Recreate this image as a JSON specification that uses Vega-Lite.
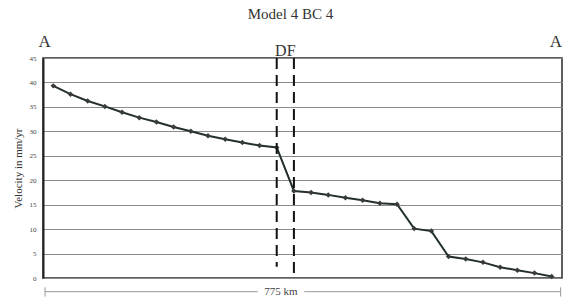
{
  "$schema": "https://vega.github.io/schema/vega-lite/v6.json",
  "width": 519,
  "height": 220,
  "autosize": {"type": "none"},
  "padding": {"left": 43, "top": 58, "right": 2, "bottom": 21},
  "background": "white",
  "config": {
    "font": "Liberation Serif",
    "view": {"stroke": "#2a2a2a", "strokeWidth": 1.5}
  },
  "title": {"text": "Model 4 BC 4", "font": "Liberation Serif", "fontSize": 15, "fontWeight": "normal", "color": "#333", "offset": 11, "dx": -12},
  "datasets": {
    "pts": [
      {"i": 0, "v": 39.3}, {"i": 1, "v": 37.6}, {"i": 2, "v": 36.2}, {"i": 3, "v": 35.1},
      {"i": 4, "v": 33.9}, {"i": 5, "v": 32.8}, {"i": 6, "v": 31.9}, {"i": 7, "v": 30.9},
      {"i": 8, "v": 30.0}, {"i": 9, "v": 29.1}, {"i": 10, "v": 28.4}, {"i": 11, "v": 27.7},
      {"i": 12, "v": 27.1}, {"i": 13, "v": 26.7}, {"i": 14, "v": 17.8}, {"i": 15, "v": 17.5},
      {"i": 16, "v": 17.0}, {"i": 17, "v": 16.4}, {"i": 18, "v": 15.9}, {"i": 19, "v": 15.3},
      {"i": 20, "v": 15.1}, {"i": 21, "v": 10.1}, {"i": 22, "v": 9.6}, {"i": 23, "v": 4.4},
      {"i": 24, "v": 3.9}, {"i": 25, "v": 3.2}, {"i": 26, "v": 2.2}, {"i": 27, "v": 1.6},
      {"i": 28, "v": 1.0}, {"i": 29, "v": 0.3}
    ],
    "faults": [
      {"i": 13, "top": 45, "bot": 2.3},
      {"i": 14, "top": 45, "bot": 0}
    ],
    "labels": [
      {"i": -0.5, "v": 48.3, "t": "A", "s": 17},
      {"i": 29.25, "v": 48.3, "t": "A", "s": 17},
      {"i": 13.5, "v": 46.5, "t": "DF", "s": 16}
    ],
    "bracket": [
      {"a": -0.48, "b": 11.9, "y": -2.8},
      {"a": 14.6, "b": 29.52, "y": -2.8}
    ],
    "ends": [
      {"a": -0.48, "y1": -1.9, "y2": -3.8},
      {"a": 29.52, "y1": -1.9, "y2": -3.8}
    ],
    "km": [{"i": 13.25, "y": -2.8, "t": "775 km"}]
  },
  "resolve": {"axis": {"y": "shared"}},
  "layer": [
    {
      "data": {"name": "pts"},
      "mark": {"type": "line", "color": "#23302e", "strokeWidth": 2},
      "encoding": {
        "x": {"field": "i", "type": "quantitative", "scale": {"domain": [-0.6, 29.6], "nice": false, "zero": false}, "axis": null},
        "y": {"field": "v", "type": "quantitative", "scale": {"domain": [0, 45], "nice": false},
          "axis": {"values": [0, 5, 10, 15, 20, 25, 30, 35, 40, 45], "tickCount": 10, "grid": true, "gridColor": "#8a8a8a", "gridWidth": 1, "gridOpacity": 1,
            "domain": true, "domainColor": "#222", "domainWidth": 2, "ticks": false, "labelFontSize": 7, "labelColor": "#444",
            "labelFont": "Liberation Serif", "labelPadding": 7, "labelOverlap": false, "labelBound": false,
            "title": "Velocity in mm/yr", "titleFont": "Liberation Serif", "titleFontSize": 11, "titleFontWeight": "normal", "titleColor": "#333", "titlePadding": 6}}
      }
    },
    {
      "data": {"name": "pts"},
      "mark": {"type": "point", "shape": "diamond", "filled": true, "color": "#3a3a3a", "size": 30, "opacity": 1},
      "encoding": {
        "x": {"field": "i", "type": "quantitative"},
        "y": {"field": "v", "type": "quantitative",
          "axis": {"values": [0, 5, 10, 15, 20, 25, 30, 35, 40, 45], "tickCount": 10, "grid": true, "gridColor": "#8a8a8a", "gridWidth": 1, "gridOpacity": 1,
            "domain": true, "domainColor": "#222", "domainWidth": 2, "ticks": false, "labelFontSize": 7, "labelColor": "#444",
            "labelFont": "Liberation Serif", "labelPadding": 7, "labelOverlap": false, "labelBound": false,
            "title": "Velocity in mm/yr", "titleFont": "Liberation Serif", "titleFontSize": 11, "titleFontWeight": "normal", "titleColor": "#333", "titlePadding": 6}}
      }
    },
    {
      "data": {"name": "faults"},
      "mark": {"type": "rule", "color": "#111", "strokeWidth": 2, "strokeDash": [11, 6]},
      "encoding": {
        "x": {"field": "i", "type": "quantitative"},
        "y": {"field": "top", "type": "quantitative",
          "axis": {"values": [0, 5, 10, 15, 20, 25, 30, 35, 40, 45], "tickCount": 10, "grid": true, "gridColor": "#8a8a8a", "gridWidth": 1, "gridOpacity": 1,
            "domain": true, "domainColor": "#222", "domainWidth": 2, "ticks": false, "labelFontSize": 7, "labelColor": "#444",
            "labelFont": "Liberation Serif", "labelPadding": 7, "labelOverlap": false, "labelBound": false,
            "title": "Velocity in mm/yr", "titleFont": "Liberation Serif", "titleFontSize": 11, "titleFontWeight": "normal", "titleColor": "#333", "titlePadding": 6}},
        "y2": {"field": "bot"}
      }
    },
    {
      "data": {"name": "labels"},
      "mark": {"type": "text", "font": "Liberation Serif", "color": "#333", "baseline": "middle", "align": "center", "clip": false},
      "encoding": {
        "x": {"field": "i", "type": "quantitative"},
        "y": {"field": "v", "type": "quantitative",
          "axis": {"values": [0, 5, 10, 15, 20, 25, 30, 35, 40, 45], "tickCount": 10, "grid": true, "gridColor": "#8a8a8a", "gridWidth": 1, "gridOpacity": 1,
            "domain": true, "domainColor": "#222", "domainWidth": 2, "ticks": false, "labelFontSize": 7, "labelColor": "#444",
            "labelFont": "Liberation Serif", "labelPadding": 7, "labelOverlap": false, "labelBound": false,
            "title": "Velocity in mm/yr", "titleFont": "Liberation Serif", "titleFontSize": 11, "titleFontWeight": "normal", "titleColor": "#333", "titlePadding": 6}},
        "text": {"field": "t"},
        "size": {"field": "s", "type": "quantitative", "scale": null}
      }
    },
    {
      "data": {"name": "bracket"},
      "mark": {"type": "rule", "color": "#999", "strokeWidth": 1},
      "encoding": {
        "x": {"field": "a", "type": "quantitative"},
        "x2": {"field": "b"},
        "y": {"field": "y", "type": "quantitative",
          "axis": {"values": [0, 5, 10, 15, 20, 25, 30, 35, 40, 45], "tickCount": 10, "grid": true, "gridColor": "#8a8a8a", "gridWidth": 1, "gridOpacity": 1,
            "domain": true, "domainColor": "#222", "domainWidth": 2, "ticks": false, "labelFontSize": 7, "labelColor": "#444",
            "labelFont": "Liberation Serif", "labelPadding": 7, "labelOverlap": false, "labelBound": false,
            "title": "Velocity in mm/yr", "titleFont": "Liberation Serif", "titleFontSize": 11, "titleFontWeight": "normal", "titleColor": "#333", "titlePadding": 6}}
      }
    },
    {
      "data": {"name": "ends"},
      "mark": {"type": "rule", "color": "#999", "strokeWidth": 1},
      "encoding": {
        "x": {"field": "a", "type": "quantitative"},
        "y": {"field": "y1", "type": "quantitative",
          "axis": {"values": [0, 5, 10, 15, 20, 25, 30, 35, 40, 45], "tickCount": 10, "grid": true, "gridColor": "#8a8a8a", "gridWidth": 1, "gridOpacity": 1,
            "domain": true, "domainColor": "#222", "domainWidth": 2, "ticks": false, "labelFontSize": 7, "labelColor": "#444",
            "labelFont": "Liberation Serif", "labelPadding": 7, "labelOverlap": false, "labelBound": false,
            "title": "Velocity in mm/yr", "titleFont": "Liberation Serif", "titleFontSize": 11, "titleFontWeight": "normal", "titleColor": "#333", "titlePadding": 6}},
        "y2": {"field": "y2"}
      }
    },
    {
      "data": {"name": "km"},
      "mark": {"type": "text", "font": "Liberation Serif", "fontSize": 11, "color": "#444", "baseline": "middle", "align": "center"},
      "encoding": {
        "x": {"field": "i", "type": "quantitative"},
        "y": {"field": "y", "type": "quantitative",
          "axis": {"values": [0, 5, 10, 15, 20, 25, 30, 35, 40, 45], "tickCount": 10, "grid": true, "gridColor": "#8a8a8a", "gridWidth": 1, "gridOpacity": 1,
            "domain": true, "domainColor": "#222", "domainWidth": 2, "ticks": false, "labelFontSize": 7, "labelColor": "#444",
            "labelFont": "Liberation Serif", "labelPadding": 7, "labelOverlap": false, "labelBound": false,
            "title": "Velocity in mm/yr", "titleFont": "Liberation Serif", "titleFontSize": 11, "titleFontWeight": "normal", "titleColor": "#333", "titlePadding": 6}},
        "text": {"field": "t"}
      }
    }
  ]
}
